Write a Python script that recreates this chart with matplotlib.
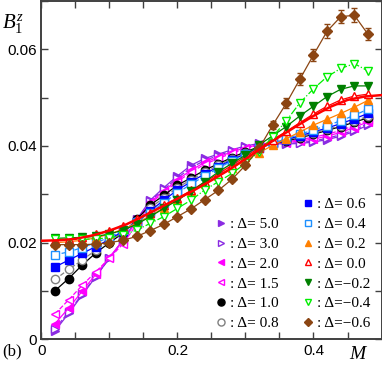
import numpy as np
import matplotlib
matplotlib.use("Agg")
import matplotlib.pyplot as plt
from matplotlib.lines import Line2D
from matplotlib.ticker import MultipleLocator

# ---------------- data ----------------
M = [0.02, 0.04, 0.06, 0.08, 0.10, 0.12, 0.14, 0.16, 0.18, 0.20, 0.22, 0.24,
     0.26, 0.28, 0.30, 0.32, 0.34, 0.36, 0.38, 0.40, 0.42, 0.44, 0.46, 0.48]

d_5p0 = [0.0018, 0.0054, 0.0092, 0.0130, 0.0168, 0.0206, 0.0248, 0.0288, 0.0314, 0.0338, 0.0360, 0.0374,
         0.0383, 0.0392, 0.0400, 0.0405, 0.0405, 0.0404, 0.0405, 0.0408, 0.0413, 0.0420, 0.0430, 0.0443]
d_3p0 = [0.0022, 0.0057, 0.0094, 0.0131, 0.0168, 0.0205, 0.0246, 0.0286, 0.0310, 0.0334, 0.0355, 0.0370,
         0.0380, 0.0390, 0.0398, 0.0404, 0.0405, 0.0405, 0.0407, 0.0410, 0.0416, 0.0423, 0.0433, 0.0446]
d_2p0 = [0.0033, 0.0065, 0.0100, 0.0135, 0.0170, 0.0205, 0.0244, 0.0284, 0.0307, 0.0330, 0.0350, 0.0366,
         0.0377, 0.0388, 0.0396, 0.0403, 0.0406, 0.0407, 0.0410, 0.0414, 0.0420, 0.0428, 0.0438, 0.0450]
d_1p5 = [0.0053, 0.0082, 0.0112, 0.0140, 0.0168, 0.0198, 0.0238, 0.0281, 0.0304, 0.0326, 0.0346, 0.0362,
         0.0374, 0.0385, 0.0394, 0.0402, 0.0406, 0.0409, 0.0413, 0.0418, 0.0424, 0.0432, 0.0442, 0.0453]
d_1p0 = [0.0101, 0.0126, 0.0154, 0.0179, 0.0200, 0.0220, 0.0248, 0.0278, 0.0298, 0.0319, 0.0334, 0.0350,
         0.0363, 0.0376, 0.0388, 0.0398, 0.0405, 0.0410, 0.0417, 0.0424, 0.0432, 0.0440, 0.0449, 0.0458]
d_0p8 = [0.0124, 0.0145, 0.0164, 0.0185, 0.0204, 0.0222, 0.0245, 0.0272, 0.0293, 0.0314, 0.0330, 0.0346,
         0.0360, 0.0373, 0.0386, 0.0397, 0.0405, 0.0412, 0.0419, 0.0426, 0.0434, 0.0442, 0.0452, 0.0461]
d_0p6 = [0.0150, 0.0164, 0.0178, 0.0192, 0.0207, 0.0224, 0.0243, 0.0266, 0.0288, 0.0309, 0.0326, 0.0342,
         0.0357, 0.0371, 0.0384, 0.0396, 0.0405, 0.0413, 0.0421, 0.0429, 0.0437, 0.0446, 0.0456, 0.0467]
d_0p4 = [0.0175, 0.0181, 0.0190, 0.0200, 0.0211, 0.0226, 0.0242, 0.0262, 0.0283, 0.0303, 0.0321, 0.0338,
         0.0354, 0.0369, 0.0383, 0.0395, 0.0405, 0.0415, 0.0424, 0.0433, 0.0442, 0.0452, 0.0463, 0.0476]
d_0p2 = [0.0200, 0.0202, 0.0205, 0.0210, 0.0218, 0.0228, 0.0240, 0.0256, 0.0272, 0.0289, 0.0305, 0.0321,
         0.0337, 0.0354, 0.0370, 0.0386, 0.0401, 0.0415, 0.0429, 0.0443, 0.0455, 0.0467, 0.0480, 0.0494]
d_0p0 = [0.0205, 0.0207, 0.0211, 0.0217, 0.0225, 0.0235, 0.0248, 0.0262, 0.0277, 0.0292, 0.0308, 0.0325,
         0.0342, 0.0360, 0.0378, 0.0396, 0.0413, 0.0430, 0.0448, 0.0466, 0.0482, 0.0495, 0.0503, 0.0507]
d_m0p2 = [0.0209, 0.0210, 0.0211, 0.0213, 0.0218, 0.0226, 0.0238, 0.0254, 0.0271, 0.0288, 0.0306, 0.0326,
          0.0346, 0.0364, 0.0381, 0.0402, 0.0421, 0.0440, 0.0462, 0.0482, 0.0502, 0.0517, 0.0524, 0.0524]
d_m0p4 = [0.0207, 0.0207, 0.0207, 0.0208, 0.0210, 0.0216, 0.0226, 0.0240, 0.0254, 0.0271, 0.0288, 0.0309,
          0.0326, 0.0343, 0.0364, 0.0388, 0.0419, 0.0452, 0.0489, 0.0518, 0.0543, 0.0560, 0.0570, 0.0555]
d_m0p6 = [0.0196, 0.0196, 0.0196, 0.0197, 0.0200, 0.0205, 0.0213, 0.0225, 0.0238, 0.0254, 0.0270, 0.0289,
          0.0308, 0.0331, 0.0360, 0.0395, 0.0443, 0.0488, 0.0538, 0.0588, 0.0637, 0.0667, 0.0670, 0.0631]
err_m0p6 = [0.0002, 0.0002, 0.0002, 0.0002, 0.0002, 0.0002, 0.0002, 0.0002, 0.0002, 0.0002, 0.0002, 0.0002,
            0.0002, 0.0003, 0.0004, 0.0006, 0.0008, 0.0010, 0.0012, 0.0013, 0.0014, 0.0014, 0.0014, 0.0012]

# theory curve (solid red line)
M_line = [0.0, 0.025, 0.05, 0.075, 0.10, 0.125, 0.15, 0.175, 0.20, 0.225, 0.25, 0.275,
          0.30, 0.325, 0.35, 0.375, 0.40, 0.425, 0.45, 0.475, 0.50]
B_line = [0.0204, 0.0205, 0.0208, 0.0215, 0.0225, 0.0238, 0.0255, 0.0273, 0.0291, 0.0309, 0.0329, 0.0350,
          0.0373, 0.0397, 0.0419, 0.0441, 0.0462, 0.0481, 0.0495, 0.0502, 0.0505]

deltas = ["5.0", "3.0", "2.0", "1.5", "1.0", "0.8", "0.6", "0.4", "0.2", "0.0", "\u22120.2", "\u22120.4", "\u22120.6"]
values = [d_5p0, d_3p0, d_2p0, d_1p5, d_1p0, d_0p8, d_0p6, d_0p4, d_0p2, d_0p0, d_m0p2, d_m0p4, d_m0p6]

# styles: (color, marker, filled, linestyle)
styles = [
    ("#8a2be2", ">", True, "-"),
    ("#8a2be2", ">", False, "--"),
    ("#ff00ff", "<", True, "-"),
    ("#ff00ff", "<", False, "--"),
    ("#000000", "o", True, "-"),
    ("#808080", "o", False, "--"),
    ("#0000ff", "s", True, "-"),
    ("#1e90ff", "s", False, "--"),
    ("#ff8000", "^", True, "-"),
    ("#ff0000", "^", False, "-"),
    ("#008000", "v", True, "-"),
    ("#00ee00", "v", False, "-."),
    ("#8b4513", "D", True, "-"),
]

plt.rcParams["font.family"] = ["Liberation Sans", "DejaVu Sans"]
plt.rcParams["mathtext.fontset"] = "custom"
plt.rcParams["mathtext.rm"] = "Liberation Serif"
plt.rcParams["mathtext.it"] = "Liberation Serif:italic"

fig = plt.figure(figsize=(3.82, 3.65), dpi=100)
ax = fig.add_axes([0.1086, 0.0699, 0.8901, 0.9281])

msize = {"o": 6.0, "s": 5.2, "^": 5.5, "v": 5.5, ">": 5.5, "<": 5.5, "D": 4.6}
handles = []
for d, v, (c, mk, filled, ls) in zip(deltas, values, styles):
    fc = c if filled else "white"
    if d == "\u22120.6":
        ax.errorbar(M, v, yerr=err_m0p6, color=c, marker=mk, ms=msize[mk], mfc=fc, mec=c,
                    lw=0.9, ls=ls, capsize=2.5, elinewidth=0.9, zorder=3)
    else:
        ax.plot(M, v, color=c, marker=mk, ms=msize[mk], mfc=fc, mec=c, mew=1.0,
                lw=0.9, ls=ls, zorder=3)
    handles.append(Line2D([], [], color=c, marker=mk, ms=msize[mk] * 0.85, mfc=fc, mec=c,
                          mew=1.0, ls="none", label=": \u0394=" + ("" if d.startswith("\u2212") else " ") + d))

ax.plot(M_line, B_line, color="#ff0000", lw=1.8, zorder=4)

ax.set_xlim(0, 0.5)
ax.set_ylim(0, 0.07)
ax.xaxis.set_minor_locator(MultipleLocator(0.05))
ax.yaxis.set_minor_locator(MultipleLocator(0.01))
ax.set_xticks([0, 0.2, 0.4])
ax.set_xticklabels(["0", "0.2", "0.4"])
ax.set_yticks([0, 0.02, 0.04, 0.06])
ax.set_yticklabels(["0", "0.02", "0.04", "0.06"])
ax.tick_params(which="both", direction="in", top=True, right=True, length=5, width=1.0,
               color="#404040", labelsize=11, pad=3)
for s in ax.spines.values():
    s.set_color("#404040")
    s.set_linewidth(1.4)

blank = Line2D([], [], ls="none", marker="none", label=" ")
order = [blank] + handles[:6] + handles[6:]
leg = ax.legend(handles=order, ncol=2, loc="lower right", bbox_to_anchor=(1.0, -0.004),
                frameon=False, prop={"family": "Liberation Serif", "size": 11},
                handlelength=0.8, handletextpad=0.2, columnspacing=1.55, labelspacing=0.40,
                borderpad=0.2)

ax.text(-0.115, 0.965, "$B_1^z$", transform=ax.transAxes, fontsize=15, ha="left", va="top")
fig.text(0.005, 0.015, "(b)", fontsize=12, family="Liberation Serif", ha="left", va="bottom")
fig.text(0.94, 0.005, "$M$", fontsize=14, ha="center", va="bottom")

fig.savefig("out.png", dpi=100)
